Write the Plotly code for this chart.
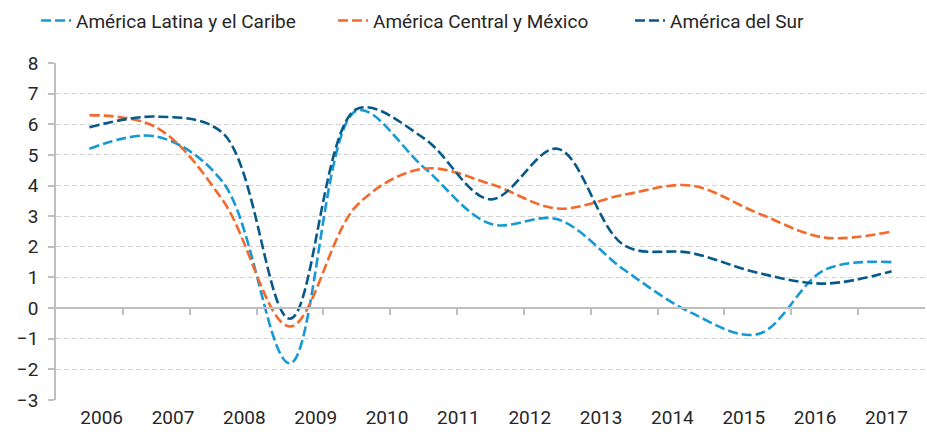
import plotly.graph_objects as go

# 13 observations (index positions along the x axis)
periods = list(range(13))
year_labels = ["2006", "2007", "2008", "2009", "2010", "2011",
               "2012", "2013", "2014", "2015", "2016", "2017"]

latam = [5.2, 5.6, 4.1, -1.8, 6.45, 4.6, 2.75, 2.9, 1.25, -0.15, -0.85, 1.25, 1.5]
centro_mexico = [6.3, 5.9, 3.5, -0.6, 3.35, 4.55, 4.05, 3.25, 3.7, 4.0, 3.1, 2.3, 2.5]
sur = [5.9, 6.25, 5.7, -0.35, 6.5, 5.55, 3.55, 5.2, 2.05, 1.8, 1.15, 0.8, 1.2]

names = ["América Latina y el Caribe", "América Central y México", "América del Sur"]
colors = ["#1799d6", "#f26a2c", "#07598a"]
series = [latam, centro_mexico, sur]

FONT = "Roboto, sans-serif"
FS = 19

fig = go.Figure()
for name, vals, col in zip(names, series, colors):
    fig.add_trace(go.Scatter(
        x=periods, y=vals, name=name, mode="lines",
        line=dict(color=col, width=2.6, dash="10px,4px", shape="spline", smoothing=1.0),
        xaxis="x", yaxis="y",
    ))

# invisible helper trace for the year-label axis
fig.add_trace(go.Scatter(x=[0, 11], y=[None, None], xaxis="x2", yaxis="y",
                         showlegend=False, hoverinfo="skip"))

fig.update_layout(
    width=927, height=435,
    margin=dict(l=56, r=2, t=60, b=35),
    paper_bgcolor="white", plot_bgcolor="white",
    font=dict(family=FONT, size=FS, color="#262626"),
    showlegend=True,
    legend=dict(orientation="h", x=-0.011, y=1.182, xanchor="left", yanchor="top",
                entrywidth=252, entrywidthmode="pixels",
                font=dict(family=FONT, size=FS, color="#262626"),
                bgcolor="rgba(0,0,0,0)"),
    xaxis=dict(range=[-0.5, 12.5], anchor="free", position=3/11,
               showline=True, linecolor="#bfbfbf", linewidth=1.6,
               tickmode="array", tickvals=[i + 0.5 for i in range(12)],
               ticks="outside", ticklen=6, tickcolor="#bfbfbf", tickwidth=1.6,
               showticklabels=False, showgrid=False, zeroline=False),
    xaxis2=dict(range=[-0.64, 11.54], overlaying="x", anchor="y", side="bottom",
                tickmode="array", tickvals=list(range(12)), ticktext=year_labels,
                showline=False, showgrid=False, zeroline=False, ticks="",
                ticklabelstandoff=4,
                tickfont=dict(family=FONT, size=FS, color="#262626")),
    yaxis=dict(range=[-3, 8], dtick=1, tick0=0,
               showline=True, linecolor="#bfbfbf", linewidth=1.6,
               ticks="outside", ticklen=6, tickcolor="#bfbfbf", tickwidth=1.6,
               showgrid=True, gridcolor="#d4d4d4", gridwidth=1.2, griddash="5px,3px",
               zeroline=False, ticklabelstandoff=6,
               tickfont=dict(family=FONT, size=FS, color="#262626")),
)

fig.write_html("out.html", config={"displayModeBar": False},
               post_script="document.body.style.margin='0';")
